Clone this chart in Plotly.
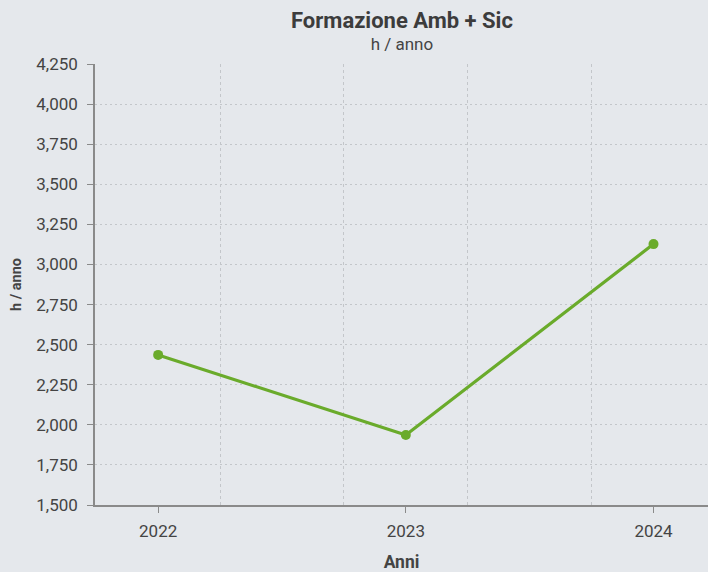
import plotly.graph_objects as go

# Ore di formazione ambiente + sicurezza per anno
anni = [2022, 2023, 2024]
ore = [2436, 1936, 3127]

y_ticks = [1500, 1750, 2000, 2250, 2500, 2750, 3000, 3250, 3500, 3750, 4000, 4250]
x_grid = [2022.25, 2022.75, 2023.25, 2023.75, 2024.25]

BG = "#e5e8ec"
GREEN = "#6aab2b"
TEXT = "#444444"
GRID = "#c3c6ca"
AXIS = "#8a8a8a"
FONT = "Roboto"

title_text = (
    "<span style='font-size:22px;color:#3c3c3c'><b>Formazione Amb + Sic</b></span>"
    "<br><span style='font-size:17px'>h / anno</span>"
)

fig = go.Figure()
fig.add_trace(go.Scatter(
    x=anni, y=ore, mode="lines+markers",
    line=dict(color=GREEN, width=3.2),
    marker=dict(color=GREEN, size=10),
    hoverinfo="x+y", showlegend=False,
))

fig.update_layout(
    width=708, height=572,
    paper_bgcolor=BG, plot_bgcolor=BG,
    margin=dict(l=95, r=0, t=64, b=67),
    font=dict(family=FONT, color=TEXT, size=17),
    annotations=[
        # title and subtitle share one text block (line spacing follows the base size)
        dict(text=title_text, xref="paper", yref="paper",
             x=0.5, y=1, yshift=8, xanchor="center", yanchor="bottom",
             showarrow=False, font=dict(size=16.6, color=TEXT, family=FONT)),
    ],
    xaxis=dict(
        range=[2021.745, 2024.22],
        tickvals=anni, ticktext=[str(a) for a in anni],
        showgrid=False, zeroline=False,
        showline=True, linecolor=AXIS, linewidth=1.5,
        ticks="outside", ticklen=6, tickcolor=AXIS,
        tickfont=dict(size=17, color=TEXT),
        ticklabelstandoff=4,
        minor=dict(tickvals=x_grid, showgrid=True, gridcolor=GRID,
                   griddash="3px,3px", gridwidth=1, ticks=""),
        title=dict(text="<b>Anni</b>", font=dict(size=17.5, color=TEXT), standoff=18),
    ),
    yaxis=dict(
        range=[1500, 4250],
        tickvals=y_ticks, tickformat=",",
        showgrid=True, gridcolor=GRID, griddash="2px,3px", gridwidth=1,
        zeroline=False,
        showline=True, linecolor=AXIS, linewidth=1.5,
        ticks="outside", ticklen=6, tickcolor=AXIS,
        tickfont=dict(size=17, color=TEXT),
        ticklabelstandoff=6,
        title=dict(text="<b>h / anno</b>", font=dict(size=14.5, color=TEXT), standoff=11),
    ),
)

fig.write_html("out.html")
